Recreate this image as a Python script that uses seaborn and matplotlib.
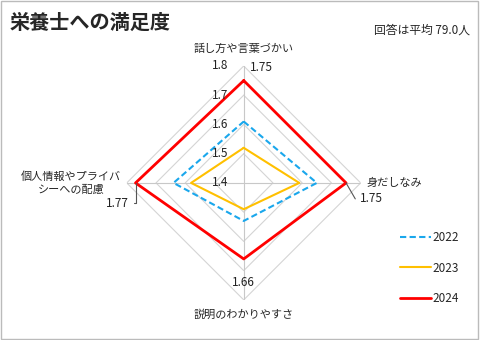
import numpy as np
import pandas as pd
import matplotlib
matplotlib.use("Agg")
import matplotlib.pyplot as plt
import seaborn as sns
from matplotlib.patches import Rectangle
from matplotlib.lines import Line2D

categories = ["話し方や言葉づかい", "身だしなみ", "説明のわかりやすさ", "個人情報やプライバ\nシーへの配慮"]
years = ["2022", "2023", "2024"]
values_2022 = [1.61, 1.65, 1.53, 1.64]
values_2023 = [1.52, 1.59, 1.49, 1.58]
values_2024 = [1.75, 1.75, 1.66, 1.77]
ring_ticks = [1.4, 1.5, 1.6, 1.7, 1.8]
title = "栄養士への満足度"
subtitle = "回答は平均 79.0人"

sns.set_theme(style="white")
plt.rcParams["font.family"] = ["Noto Sans CJK JP", "DejaVu Sans"]

n = len(categories)
angles = [i * 2 * np.pi / n for i in range(n)]

rows = []
for yr, vals in zip(years, [values_2022, values_2023, values_2024]):
    for k, idx in enumerate(list(range(n)) + [0]):
        rows.append({"year": yr, "order": k, "theta": angles[idx], "value": vals[idx]})
df = pd.DataFrame(rows)

fig = plt.figure(figsize=(4.8, 3.4), dpi=100)
ax = fig.add_axes([0.264, 0.118, 0.4875, 0.688], projection="polar")
ax.set_theta_zero_location("N")
ax.set_theta_direction(-1)
ax.set_ylim(ring_ticks[0], ring_ticks[-1])
ax.grid(False)
ax.set_xticks([])
ax.set_yticks([])
ax.spines["polar"].set_visible(False)
ax.set_facecolor("none")

# polygon grid
closed = angles + [angles[0]]
for r in ring_ticks[1:]:
    ax.plot(closed, [r] * len(closed), color="#d4d4d4", lw=0.8, zorder=1)
for a in angles:
    ax.plot([a, a], [ring_ticks[0], ring_ticks[-1]], color="#c8c8c8", lw=0.8, zorder=1)

palette = {"2022": "#1aa7ec", "2023": "#ffc000", "2024": "#ff0000"}
dashes = {"2022": (3, 1.6), "2023": "", "2024": ""}
sns.lineplot(data=df, x="theta", y="value", hue="year", style="year", sort=False,
             estimator=None, units="year", palette=palette, dashes=dashes, ax=ax,
             legend=False, zorder=3)
for line, yr in zip(ax.lines[-3:], years):
    line.set_linewidth(2.0 if yr == "2024" else 1.5)
ax.set_xlabel("")
ax.set_ylabel("")
ax.set_ylim(ring_ticks[0], ring_ticks[-1])

# tick labels on the top spoke
for r in ring_ticks:
    ax.annotate(f"{r:.1f}", xy=(0, r), xytext=(-11, 0), textcoords="offset points",
                ha="right", va="center", fontsize=8.5, color="#222222", zorder=5)

# category labels
ax.annotate(categories[0], xy=(angles[0], 1.8), xytext=(0, 9), textcoords="offset points",
            ha="center", va="bottom", fontsize=8)
ax.annotate(categories[1], xy=(angles[1], 1.8), xytext=(4, 0), textcoords="offset points",
            ha="left", va="center", fontsize=8)
ax.annotate(categories[2], xy=(angles[2], 1.8), xytext=(0, -7), textcoords="offset points",
            ha="center", va="top", fontsize=8)
ax.annotate(categories[3], xy=(angles[3], 1.8), xytext=(-4, 0), textcoords="offset points",
            ha="right", va="center", fontsize=8, multialignment="center", linespacing=1.25)

# value labels for 2024
lab = dict(fontsize=8.5, color="#222222")
ax.annotate(f"{values_2024[0]:.2f}", xy=(angles[0], values_2024[0]), xytext=(4.3, 9.5),
            textcoords="offset points", ha="left", va="center", **lab)
ax.annotate(f"{values_2024[1]:.2f}", xy=(angles[1], values_2024[1]), xytext=(10, -11.5),
            textcoords="offset points", ha="left", va="center",
            arrowprops=dict(arrowstyle="-", color="#555555", lw=0.8, shrinkA=1, shrinkB=0,
                            connectionstyle="angle,angleA=0,angleB=-60,rad=0"), **lab)
ax.annotate(f"{values_2024[2]:.2f}", xy=(angles[2], values_2024[2]), xytext=(0, -17),
            textcoords="offset points", ha="center", va="center", **lab)
ax.annotate(f"{values_2024[3]:.2f}", xy=(angles[3], values_2024[3]), xytext=(-4.5, -14.5),
            textcoords="offset points", ha="right", va="center",
            arrowprops=dict(arrowstyle="-", color="#555555", lw=0.8, shrinkA=1, shrinkB=0,
                            connectionstyle="angle,angleA=0,angleB=90,rad=0"), **lab)

# legend
handles = [Line2D([], [], color=palette[y], lw=(2.0 if y == "2024" else 1.5),
                  linestyle=((0, (3, 1.6)) if y == "2022" else "-")) for y in years]
fig.legend(handles, years, loc="upper left", bbox_to_anchor=(0.833, 0.321),
           frameon=False, fontsize=8.5, handlelength=2.6, handletextpad=0.2,
           labelspacing=1.5, borderpad=0, borderaxespad=0)

fig.text(10 / 480, 1 - 22 / 340, title, fontsize=14.5, fontweight="bold", va="center", ha="left")
fig.text(470 / 480, 1 - 30 / 340, subtitle, fontsize=8.5, va="center", ha="right")

fig.patches.append(Rectangle((0.002, 0.003), 0.994, 0.994, transform=fig.transFigure,
                             fill=False, edgecolor="#bbbbbb", lw=1.0))

fig.savefig("out.png", dpi=100)
